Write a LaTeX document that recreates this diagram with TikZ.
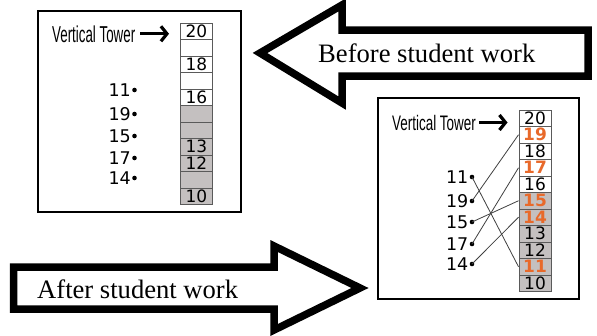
\documentclass[tikz,border=0pt]{standalone}
\usepackage{fontspec}
\usepackage{graphicx}
\setmainfont{Liberation Serif}
\newfontfamily\numfont{DejaVu Sans}
\newfontfamily\vtfont{Liberation Sans}
\usetikzlibrary{positioning}
\usetikzlibrary{arrows.meta}
\definecolor{cellgray}{HTML}{C4C0C0}
\definecolor{numorange}{HTML}{E8692A}
\definecolor{edgegray}{HTML}{5A5A5A}
\newcommand{\towerlabel}[2]{{\vtfont\fontsize{#1}{#1}\selectfont\scalebox{#2}[1]{Vertical Tower}}}
\tikzset {
  panel/.style = {
    draw = black,
    fill = white,
    line width = 2pt,
    inner sep = 0
  },
  % big outline arrows
  bigarrow/.style = {
    draw = black,
    fill = white,
    line width = 7.5pt,
    miter limit = 10
  },
  note/.style = {
    inner sep = 0,
    anchor = base west,
    font = \fontsize{26.6}{30}\selectfont
  }
}
\tikzset {
  cell/.style = {
    draw = edgegray,
    line width = 1pt,
    minimum width = 32pt,
    minimum height = 16.5pt,
    inner sep = 0,
    font = \numfont\fontsize{17}{17}\selectfont
  },
  plain/.style = {},
  % moved values
  hot/.style = {
    text = numorange,
    font = \numfont\bfseries\fontsize{17}{17}\selectfont
  },
  num/.style = {
    inner sep = 0,
    font = \numfont\fontsize{17.5}{17.5}\selectfont
  },
  dot/.style = {
    circle,
    fill = black,
    minimum size = 4.6pt,
    inner sep = 0
  },
  vt/.style = {
    inner sep = 0,
    anchor = base west
  },
  vtarrow/.style = {
    line width = 3.2pt,
    -{Straight Barb[length=6pt,width=15pt]}
  },
  link/.style = {
    draw = black!75,
    line width = 0.8pt
  }
}

\begin{document}
\begin{tikzpicture}[x=1pt, y=-1pt]
    \useasboundingbox (0,0) rectangle (597,335);

    \draw[bigarrow] (260,53) -- (342,5) -- (342,30) -- (588,30)
    -- (588,76) -- (342,76) -- (342,103) -- cycle;
    \draw[bigarrow] (13.5,267) -- (274,267) -- (274,246) -- (360,288)
    -- (274,330) -- (274,309) -- (13.5,309) -- cycle;
    \node[note] (before) at (318,62) {Before student work};
    \node[note] (after) at (37,298) {After student work};

    % before
    \node[panel, minimum width = 203pt, minimum height = 201pt] (box1) at (139.5,111.5) {};
    \node[vt] (vt1) at (52,42) {\towerlabel{23}{0.58}};
    \foreach \v/\t/\f [count=\i from 0] in {20/20/white, 19//white, 18/18/white,
      17//white, 16/16/white, 15//cellgray, 14//cellgray, 13/13/cellgray,
      12/12/cellgray, 11//cellgray, 10/10/cellgray}
      \node[cell, fill = \f] (a\v) at (196.5, 31.25+16.5*\i) {\t};
    \draw[vtarrow, shorten <= 5pt, shorten >= 11pt] (vt1.east) -- (vt1.east -| a20.west);
    \foreach \v/\y in {11/90, 19/114, 15/136, 17/158, 14/178} {
      \node[dot] (p\v) at (134.5,\y) {};
      \node[num, left = 1pt of p\v] (n\v) {\v};
    }

    % after
    \node[panel, minimum width = 201pt, minimum height = 201pt] (box2) at (478.5,198.5) {};
    \node[vt] (vt2) at (392,130) {\towerlabel{21}{0.64}};
    \foreach \v/\s/\f [count=\i from 0] in {20/plain/white, 19/hot/white, 18/plain/white,
      17/hot/white, 16/plain/white, 15/hot/cellgray, 14/hot/cellgray, 13/plain/cellgray,
      12/plain/cellgray, 11/hot/cellgray, 10/plain/cellgray}
      \node[cell, \s, fill = \f] (b\v) at (535, 118.25+16.5*\i) {\v};
    \draw[vtarrow, shorten <= 3pt, shorten >= 11pt] (vt2.east) -- (vt2.east -| b20.west);
    \foreach \v/\y in {11/177, 19/201, 15/222, 17/244, 14/264} {
      \node[dot] (q\v) at (472,\y) {};
      \node[num, left = 1pt of q\v] (m\v) {\v};
    }
    \foreach \v in {11, 19, 15, 17, 14}
      \draw[link] (q\v.center) -- (b\v.west);
\end{tikzpicture}
\end{document}
